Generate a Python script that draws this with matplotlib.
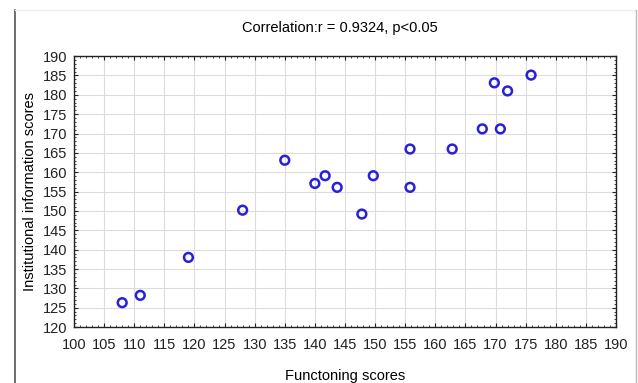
import matplotlib.pyplot as plt
from matplotlib.lines import Line2D
from matplotlib.ticker import MultipleLocator

plt.rcParams['font.family'] = ['Liberation Sans Narrow', 'Liberation Sans', 'DejaVu Sans']

# functioning vs. institutional information scores
functioning = [108, 111, 119, 128, 135, 140, 141.7, 143.7, 147.8, 149.7,
               155.8, 155.8, 162.8, 167.8, 169.8, 170.8, 172, 175.9]
institutional = [126.3, 128.2, 138, 150.2, 163.1, 157.1, 159.1, 156.1, 149.2, 159.1,
                 166, 156.1, 166, 171.2, 183.1, 171.2, 181, 185.1]
title = 'Correlation:r = 0.9324, p<0.05'

fig = plt.figure(figsize=(6.38, 3.83), dpi=100)
ax = fig.add_axes([0.116, 0.146, 0.8495, 0.7075])

ax.scatter(functioning, institutional, s=40, facecolors='none',
           edgecolors='#2a20d8', linewidths=1.8, zorder=3)

ax.set_xlim(100, 190)
ax.set_ylim(120, 190)
ax.xaxis.set_major_locator(MultipleLocator(5))
ax.yaxis.set_major_locator(MultipleLocator(5))
ax.xaxis.set_minor_locator(MultipleLocator(1))
ax.yaxis.set_minor_locator(MultipleLocator(1))
ax.tick_params(which='both', direction='in', top=True, right=True,
               labelsize=10.5, colors='#222222')
ax.tick_params(which='major', length=3, pad=5)
ax.tick_params(which='minor', length=1.5)
ax.tick_params(axis='x', which='major', pad=8)
ax.grid(True, which='major', color='#dcdcdc', linewidth=0.8)
ax.set_axisbelow(True)
for s in ax.spines.values():
    s.set_color('#222222')
    s.set_linewidth(1.0)

ax.set_xlabel('Functoning scores', fontsize=10.5, labelpad=12,
              family=['Liberation Sans', 'DejaVu Sans'])
ax.set_ylabel('Institutional information scores', fontsize=10.5, labelpad=4,
              family=['Liberation Sans', 'DejaVu Sans'])
fig.text(0.533, 0.928, title, ha='center', va='center', fontsize=10.5,
         family=['Liberation Sans', 'DejaVu Sans'])

# outer frame of the original figure
fig.add_artist(Line2D([15 / 638, 15 / 638], [0, 1 - 10 / 383], color='#555555', lw=1.2))
fig.add_artist(Line2D([15 / 638, 636 / 638], [1 - 10 / 383, 1 - 10 / 383], color='#eeeeee', lw=1))
fig.add_artist(Line2D([636 / 638, 636 / 638], [0, 1 - 10 / 383], color='#bbbbbb', lw=1))

fig.savefig('out.png', dpi=100)
